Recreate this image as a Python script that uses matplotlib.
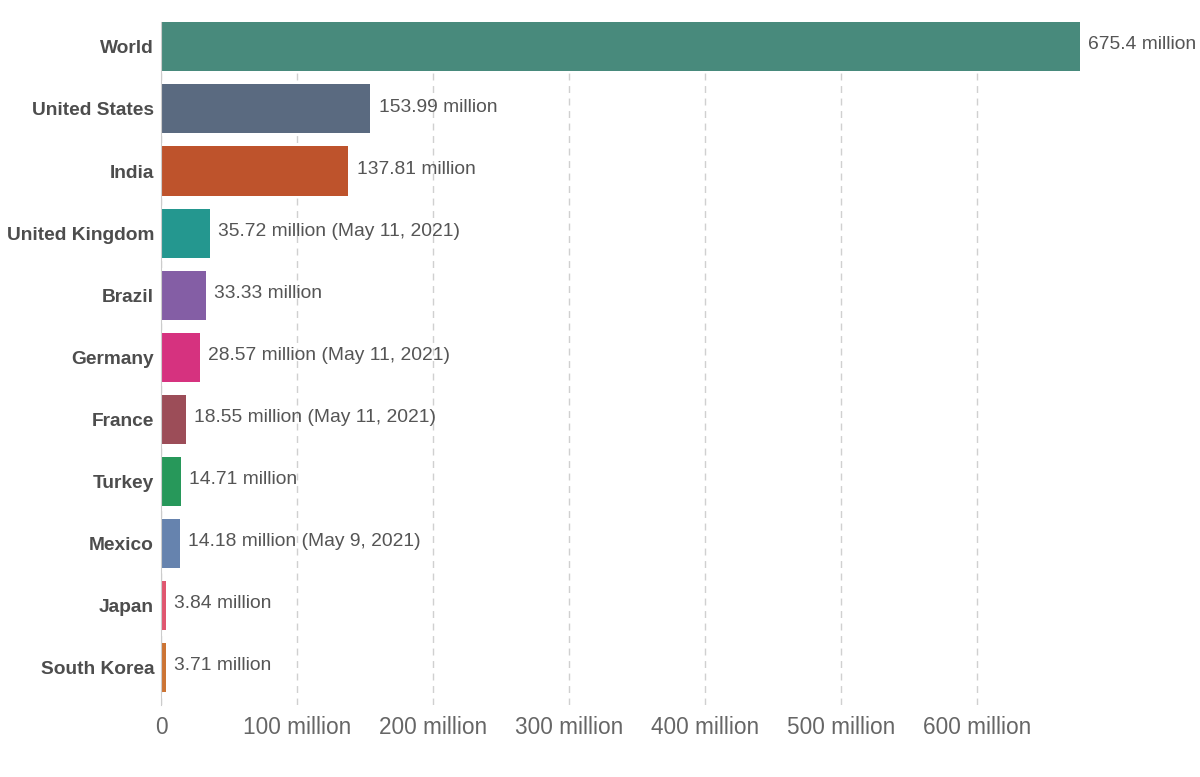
import matplotlib.pyplot as plt

# Data
countries = ['World', 'United States', 'India', 'United Kingdom', 'Brazil', 'Germany',
             'France', 'Turkey', 'Mexico', 'Japan', 'South Korea']
values = [675.4, 153.99, 137.81, 35.72, 33.33, 28.57, 18.55, 14.71, 14.18, 3.84, 3.71]  # millions
labels = ['675.4 million', '153.99 million', '137.81 million', '35.72 million (May 11, 2021)',
          '33.33 million', '28.57 million (May 11, 2021)', '18.55 million (May 11, 2021)',
          '14.71 million', '14.18 million (May 9, 2021)', '3.84 million', '3.71 million']
colors = ['#488A7C', '#5A6A80', '#BE532C', '#24978F', '#845EA5', '#D6327F',
          '#9C4D58', '#27985A', '#6683AE', '#E0566F', '#CC7434']
xticks = [0, 100, 200, 300, 400, 500, 600]
xtick_labels = ['0', '100 million', '200 million', '300 million', '400 million',
                '500 million', '600 million']

plt.rcParams['font.family'] = ['Liberation Sans', 'DejaVu Sans']

fig = plt.figure(figsize=(12, 7.77), dpi=100)
ax = fig.add_axes([161 / 1200, 1 - 705 / 777, 1 - 161 / 1200, (705 - 22) / 777])

y = list(range(len(countries)))
ax.barh(y, values, height=0.79, color=colors, zorder=3)

for yi, v, lab in zip(y, values, labels):
    ax.text(v + 6, yi - 0.03, lab, va='center', ha='left', fontsize=13.9, color='#555555', zorder=4)

ax.set_xlim(0, 1039 / 1.36)
ax.set_ylim(len(countries) - 0.4, -0.4)

ax.set_yticks(y)
ax.set_yticklabels(countries, fontsize=13.8, fontweight='bold', color='#4d4d4d')
ax.set_xticks(xticks)
ax.set_xticklabels(xtick_labels, fontsize=16.3, color='#666666')
ax.tick_params(axis='both', length=0)
ax.tick_params(axis='y', pad=5)
ax.tick_params(axis='x', pad=8)

ax.grid(axis='x', linestyle=(0, (5, 4)), color='#d0d0d0', linewidth=1, zorder=0)
for s in ['top', 'right', 'bottom']:
    ax.spines[s].set_visible(False)
ax.spines['left'].set_color('#cccccc')
ax.spines['left'].set_zorder(5)

fig.savefig('out.png', dpi=100)
